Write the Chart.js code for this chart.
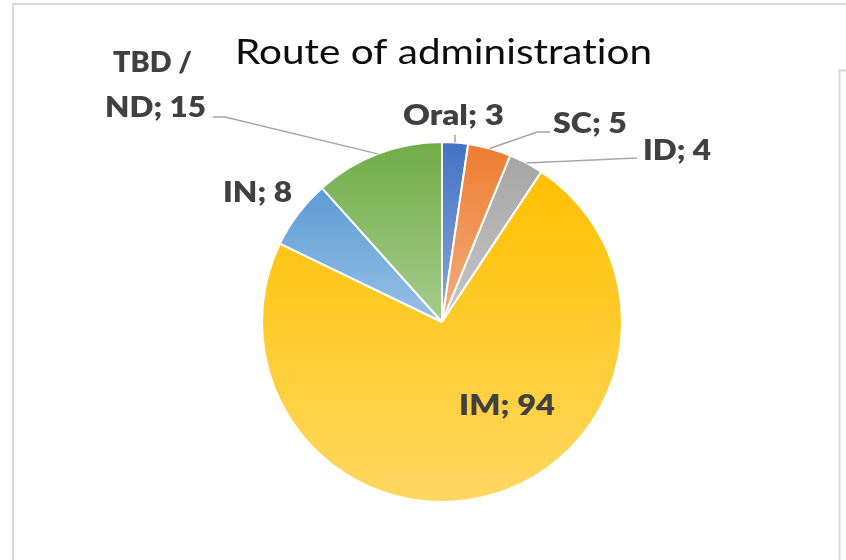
<!DOCTYPE html>
<html>
<head>
<meta charset="utf-8">
<script src="https://cdn.jsdelivr.net/npm/chart.js@4/dist/chart.umd.min.js"></script>
<style>
  html, body { margin: 0; padding: 0; background: #ffffff; }
  #wrap { width: 846px; height: 560px; position: relative; }
  canvas { display: block; }
</style>
</head>
<body>
<div id="wrap"><canvas id="routeChart" width="846" height="560"></canvas></div>
<script>
// ---- data ----
const categories = ['Oral', 'SC', 'ID', 'IM', 'IN', 'TBD / ND'];
const counts = [3, 5, 4, 94, 8, 15];
const titleText = 'Route of administration';

// ---- styles ----
const sliceColors = ['#4472C4', '#ED7D31', '#A5A5A5', '#FFC000', '#5B9BD5', '#70AD47'];
const LIGHTEN_BOTTOM = 0.38;          // how far each slice fades toward white at its lower edge
const LABEL_FONT = '800 29px Lato';
const LABEL_COLOR = '#404040';
const LEADER_COLOR = '#A6A6A6';
const TITLE_FONT = '400 35px Lato';
const TITLE_COLOR = '#0D0D0D';
const FRAME_COLOR = '#D9D9D9';

// label layout: baseline-centre offsets from the pie centre (px), text width (px),
// optional line break position and leader-line anchor points near the label
const labelLayout = [
  { lines: [{ dx: 11.5, dy: -197, w: 101 }], leader: [[13, -187]] },
  { lines: [{ dx: 148, dy: -189, w: 74 }], leader: [[108, -190], [95, -190]] },
  { lines: [{ dx: 235, dy: -162, w: 68 }], leader: [[195, -164]] },
  { lines: [{ dx: 65, dy: 93, w: 96 }], leader: null },
  { lines: [{ dx: -184.5, dy: -120, w: 69 }], leader: null },
  { breakAfter: 'TBD /', lines: [{ dx: -289.5, dy: -250, w: 79 }, { dx: -286.5, dy: -205, w: 101 }],
    leader: [[-229, -205], [-217, -205]] }
];
const titleLayout = { x: 443.5, y: 64, w: 417 };

function hexToRgb(hex) {
  const n = parseInt(hex.slice(1), 16);
  return [(n >> 16) & 255, (n >> 8) & 255, n & 255];
}
function lighten(hex, t) {
  const [r, g, b] = hexToRgb(hex);
  const m = v => Math.round(v + (255 - v) * t);
  return `rgb(${m(r)},${m(g)},${m(b)})`;
}

// vertical extent of a pie sector
function sectorYRange(arc) {
  const { x, y, startAngle, endAngle, outerRadius } = arc.getProps(['x', 'y', 'startAngle', 'endAngle', 'outerRadius'], true);
  let minY = y, maxY = y;
  const ys = [y + Math.sin(startAngle) * outerRadius, y + Math.sin(endAngle) * outerRadius];
  ys.forEach(v => { minY = Math.min(minY, v); maxY = Math.max(maxY, v); });
  const TAU = Math.PI * 2;
  const inRange = a => {
    const s = startAngle, e = endAngle;
    while (a < s) a += TAU;
    while (a > s + TAU) a -= TAU;
    return a <= e;
  };
  if (inRange(-Math.PI / 2)) minY = Math.min(minY, y - outerRadius);
  if (inRange(Math.PI / 2)) maxY = Math.max(maxY, y + outerRadius);
  return [minY, maxY];
}

// text drawn centred at (x, y baseline), stretched horizontally to width w
function drawFitted(ctx, text, x, y, w, font, color) {
  ctx.save();
  ctx.font = font;
  ctx.fillStyle = color;
  ctx.textAlign = 'center';
  ctx.textBaseline = 'alphabetic';
  if ('letterSpacing' in ctx) ctx.letterSpacing = '0.01px';   // keeps "ti" etc. as separate glyphs
  const natural = ctx.measureText(text).width;
  ctx.translate(x, y);
  ctx.scale(w / natural, 1);
  ctx.fillText(text, 0, 0);
  ctx.restore();
}

const slideFrame = {
  id: 'slideFrame',
  beforeDraw(chart) {
    const ctx = chart.ctx;
    ctx.save();
    ctx.fillStyle = '#ffffff';
    ctx.fillRect(0, 0, chart.width, chart.height);
    ctx.strokeStyle = FRAME_COLOR;
    ctx.lineWidth = 2;
    ctx.beginPath();
    ctx.moveTo(13, chart.height);
    ctx.lineTo(13, 4);
    ctx.lineTo(chart.width, 4);
    ctx.moveTo(839.5, chart.height);
    ctx.lineTo(839.5, 70.5);
    ctx.lineTo(chart.width, 70.5);
    ctx.stroke();
    ctx.restore();
  }
};

const sliceGradients = {
  id: 'sliceGradients',
  beforeDatasetsDraw(chart) {
    const ctx = chart.ctx;
    const meta = chart.getDatasetMeta(0);
    meta.data.forEach((arc, i) => {
      const [y0, y1] = sectorYRange(arc);
      const g = ctx.createLinearGradient(0, y0, 0, y1);
      g.addColorStop(0, sliceColors[i]);
      g.addColorStop(1, lighten(sliceColors[i], LIGHTEN_BOTTOM));
      arc.options = Object.assign({}, arc.options, { backgroundColor: g });
    });
  }
};

const sliceLabels = {
  id: 'sliceLabels',
  afterDatasetsDraw(chart) {
    const ctx = chart.ctx;
    const meta = chart.getDatasetMeta(0);
    meta.data.forEach((arc, i) => {
      const p = arc.getProps(['x', 'y', 'startAngle', 'endAngle', 'outerRadius'], true);
      const layout = labelLayout[i];
      const full = `${categories[i]}; ${counts[i]}`;
      let lines = [full];
      if (layout.breakAfter) {
        const cut = full.indexOf(layout.breakAfter) + layout.breakAfter.length;
        lines = [full.slice(0, cut).trim(), full.slice(cut).trim()];
      }
      // leader line from the label to the middle of the slice edge
      if (layout.leader) {
        const mid = (p.startAngle + p.endAngle) / 2;
        const ex = p.x + Math.cos(mid) * p.outerRadius;
        const ey = p.y + Math.sin(mid) * p.outerRadius;
        ctx.save();
        ctx.strokeStyle = LEADER_COLOR;
        ctx.lineWidth = 1.5;
        ctx.beginPath();
        layout.leader.forEach(([dx, dy], k) => {
          if (k === 0) ctx.moveTo(p.x + dx, p.y + dy); else ctx.lineTo(p.x + dx, p.y + dy);
        });
        ctx.lineTo(ex, ey);
        ctx.stroke();
        ctx.restore();
      }
      lines.forEach((txt, k) => {
        const L = layout.lines[k];
        drawFitted(ctx, txt, p.x + L.dx, p.y + L.dy, L.w, LABEL_FONT, LABEL_COLOR);
      });
    });
  },
  afterDraw(chart) {
    drawFitted(chart.ctx, titleText, titleLayout.x, titleLayout.y, titleLayout.w, TITLE_FONT, TITLE_COLOR);
  }
};

function start() {
  new Chart(document.getElementById('routeChart'), {
    type: 'pie',
    data: {
      labels: categories,
      datasets: [{
        data: counts,
        backgroundColor: sliceColors,
        borderColor: '#ffffff',
        borderWidth: 2
      }]
    },
    options: {
      responsive: false,
      animation: false,
      layout: { padding: { left: 261, right: 223, top: 141, bottom: 57 } },
      plugins: {
        legend: { display: false },
        title: { display: false },
        tooltip: { enabled: false }
      }
    },
    plugins: [slideFrame, sliceGradients, sliceLabels]
  });
}

if (document.fonts && document.fonts.load) {
  Promise.all([document.fonts.load(LABEL_FONT), document.fonts.load(TITLE_FONT)]).then(start, start);
} else {
  start();
}
</script>
</body>
</html>
